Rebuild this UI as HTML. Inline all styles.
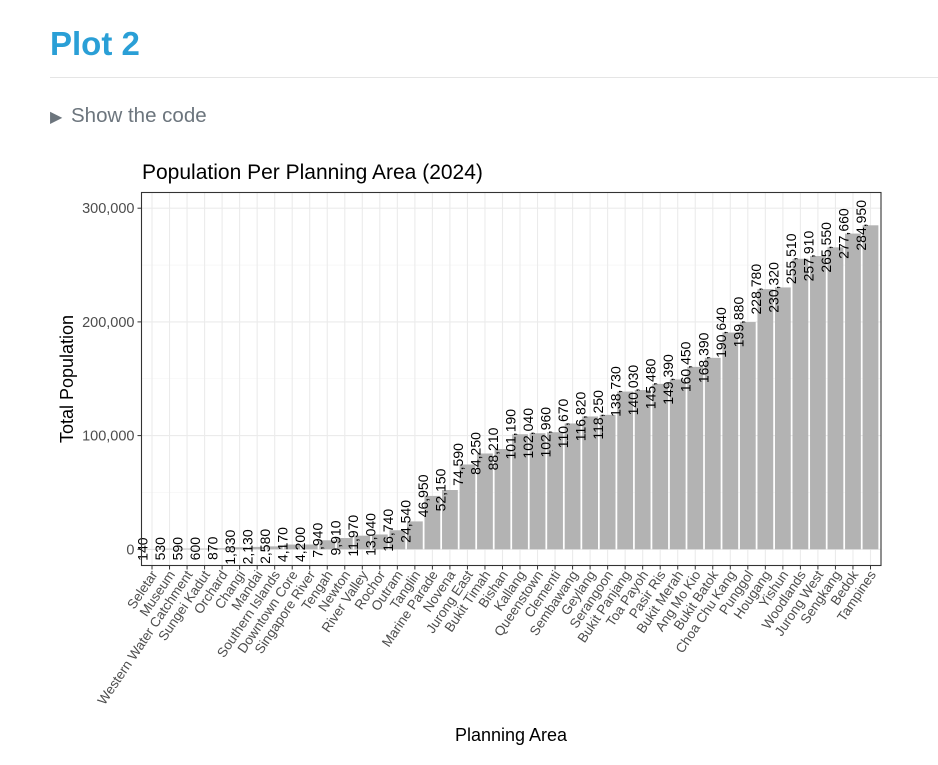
<!DOCTYPE html>
<html><head><meta charset="utf-8"><style>
body{margin:0;background:#fff;font-family:"Liberation Sans",sans-serif;}
#h{position:absolute;left:50px;top:25px;font-size:33px;font-weight:bold;color:#2a9fd6;margin:0}
#rule{position:absolute;left:50px;top:77px;width:888px;height:1px;background:#e5e5e5}
#code{position:absolute;left:50px;top:104px;font-size:20.5px;color:#6c757d}
svg{position:absolute;left:0;top:0}
</style></head><body>
<h1 id="h">Plot 2</h1>
<div id="rule"></div>
<div id="code"><span style="font-size:16px;display:inline-block;width:21px">▶</span>Show the code</div>
<svg id="chart" width="938" height="765"></svg>
<script>
const categories=["Seletar","Museum","Western Water Catchment","Sungei Kadut","Orchard","Changi","Mandai","Southern Islands","Downtown Core","Singapore River","Tengah","Newton","River Valley","Rochor","Outram","Tanglin","Marine Parade","Novena","Jurong East","Bukit Timah","Bishan","Kallang","Queenstown","Clementi","Sembawang","Geylang","Serangoon","Bukit Panjang","Toa Payoh","Pasir Ris","Bukit Merah","Ang Mo Kio","Bukit Batok","Choa Chu Kang","Punggol","Hougang","Yishun","Woodlands","Jurong West","Sengkang","Bedok","Tampines"];
const populations=[140,530,590,600,870,1830,2130,2580,4170,4200,7940,9910,11970,13040,16740,24540,46950,52150,74590,84250,88210,101190,102040,102960,110670,116820,118250,138730,140030,145480,149390,160450,168390,190640,199880,228780,230320,255510,257910,265550,277660,284950];
const yTicks=[0,100000,200000,300000];
const yMinor=[50000,150000,250000];

const NS="http://www.w3.org/2000/svg";
const svg=document.getElementById('chart');
const L=141.5,R=881,T=192.5,B=565.5;
const n=categories.length;
const step=(R-L)/(n+0.2);
const x=i=>L+step*(0.6+i);
const y0=549.3,k=113.7/100000;
const y=v=>y0-v*k;
function el(tag,attrs,txt){const e=document.createElementNS(NS,tag);for(const a in attrs)e.setAttribute(a,attrs[a]);if(txt!==undefined)e.textContent=txt;svg.appendChild(e);return e;}
const fmt=v=>v.toLocaleString('en-US');

let t=el('text',{x:142,y:179,'font-size':21,fill:'#000'},'Population Per Planning Area (2024)');



yMinor.forEach(v=>{const g=el('line',{x1:L,x2:R,y1:y(v),y2:y(v),stroke:'#f3f3f3','stroke-width':0.6});

});
yTicks.forEach(v=>{const g=el('line',{x1:L,x2:R,y1:y(v),y2:y(v),stroke:'#ebebeb','stroke-width':1.1});


const tk=el('line',{x1:L-4,x2:L,y1:y(v),y2:y(v),stroke:'#333','stroke-width':1});


const lb=el('text',{x:L-7,y:y(v)+5,'font-size':14.5,fill:'#4d4d4d','text-anchor':'end'},fmt(v));

});
categories.forEach((c,i)=>{const g=el('line',{x1:x(i),x2:x(i),y1:T,y2:B,stroke:'#ebebeb','stroke-width':1.1});

});
populations.forEach((v,i)=>{
const w=step*0.9;
const b=el('rect',{x:x(i)-w/2,y:Math.min(y(v),y0),width:w,height:Math.abs(y0-y(v)),fill:'#b3b3b3'});


});
populations.forEach((v,i)=>{
const lx=x(i)-4.5,ly=y(v);
const lb=el('text',{x:lx,y:ly,'font-size':14,fill:'#000','text-anchor':'middle',transform:`rotate(-90 ${lx} ${ly})`},fmt(v));


});
const frame=el('rect',{x:L,y:T,width:R-L,height:B-T,fill:'none',stroke:'#333','stroke-width':1.1});


categories.forEach((c,i)=>{
const tk=el('line',{x1:x(i),x2:x(i),y1:B,y2:B+4,stroke:'#333','stroke-width':1});


const lx=x(i)+6,ly=B+9;
const lb=el('text',{x:lx,y:ly,'font-size':13.5,fill:'#4d4d4d','text-anchor':'end',transform:`rotate(-56 ${lx} ${ly})`},c);


});
const yt=el('text',{x:73,y:379,'font-size':18,fill:'#000','text-anchor':'middle',transform:'rotate(-90 73 379)'},'Total Population');


const xt=el('text',{x:511,y:741,'font-size':18,fill:'#000','text-anchor':'middle'},'Planning Area');


</script>
</body></html>
